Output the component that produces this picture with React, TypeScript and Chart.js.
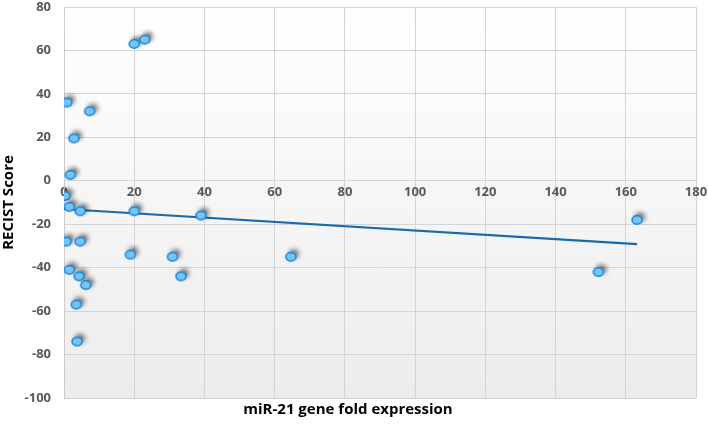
import React, { useEffect, useRef } from "react";
import { Chart, registerables } from "chart.js";

Chart.register(...registerables);

const foldExpression = [
  20.0, 23.0, 0.8, 7.3, 2.8, 1.8, 0.3, 1.5, 4.6, 20.0, 39.0,
  0.6, 4.6, 18.9, 30.9, 1.5, 4.3, 33.3, 6.2, 3.5, 3.7,
  64.6, 163.2, 152.2,
];
const recistScore = [
  63, 65, 36, 32, 19.5, 2.7, -7, -12, -14, -14, -16,
  -28, -28, -34, -35, -41, -44, -44, -48, -57, -74,
  -35, -18, -42,
];
const trendX = [0, 163.2];
const trendY = [-13, -29.2];

const xTitle = "miR-21 gene fold expression";
const yTitle = "RECIST Score";

function makePointImage(): HTMLCanvasElement {
  const c = document.createElement("canvas");
  c.width = 26;
  c.height = 26;
  const ctx = c.getContext("2d")!;
  ctx.save();
  ctx.shadowColor = "rgba(0,0,0,0.6)";
  ctx.shadowBlur = 5;
  ctx.shadowOffsetX = 3;
  ctx.shadowOffsetY = -3;
  ctx.beginPath();
  ctx.ellipse(13, 13, 5, 4.2, 0, 0, Math.PI * 2);
  ctx.fillStyle = "#72c6f7";
  ctx.fill();
  ctx.restore();
  ctx.beginPath();
  ctx.ellipse(13, 13, 5, 4.2, 0, 0, Math.PI * 2);
  ctx.fillStyle = "#72c6f7";
  ctx.fill();
  ctx.lineWidth = 1.5;
  ctx.strokeStyle = "#1f80d8";
  ctx.stroke();
  return c;
}

const bgPlugin = {
  id: "plotBg",
  beforeDraw(chart: any) {
    const { ctx, chartArea } = chart;
    if (!chartArea) return;
    const g = ctx.createLinearGradient(0, chartArea.top, 0, chartArea.bottom);
    g.addColorStop(0, "#ffffff");
    g.addColorStop(1, "#ececec");
    ctx.save();
    ctx.fillStyle = g;
    ctx.fillRect(chartArea.left, chartArea.top, chartArea.right - chartArea.left, chartArea.bottom - chartArea.top);
    ctx.restore();
  },
};

export default function App() {
  const ref = useRef<HTMLCanvasElement | null>(null);
  useEffect(() => {
    if (!ref.current) return;
    const img = makePointImage();
    const tickFont = { family: "'Open Sans', sans-serif", size: 13, weight: "bold" as const };
    const chart = new Chart(ref.current, {
      type: "scatter",
      data: {
        datasets: [
          {
            type: "line",
            label: "trend",
            data: trendX.map((x, i) => ({ x, y: trendY[i] })),
            borderColor: "#176aad",
            borderWidth: 2.2,
            pointRadius: 0,
            fill: false,
            order: 2,
          } as any,
          {
            label: "data",
            data: foldExpression.map((x, i) => ({ x, y: recistScore[i] })),
            pointStyle: img as any,
            pointRadius: 6,
            order: 1,
          },
        ],
      },
      options: {
        responsive: true,
        maintainAspectRatio: false,
        animation: false,
        layout: { padding: { left: 0, right: 12, top: 7, bottom: 0 } },
        plugins: {
          legend: { display: false },
          tooltip: { enabled: false },
          title: {
            display: true,
            position: "bottom",
            text: xTitle,
            color: "#000000",
            font: { family: "'Open Sans', sans-serif", size: 15, weight: "bold" },
            padding: { top: 3, bottom: 6 },
          },
        },
        scales: {
          x: {
            type: "linear",
            position: { y: 0 } as any,
            min: 0,
            max: 180,
            afterFit: (scale: any) => {
              scale.height = 0;
              scale.paddingTop = 0;
              scale.paddingBottom = 0;
              scale.paddingLeft = 0;
              scale.paddingRight = 0;
            },
            ticks: { stepSize: 20, color: "#595959", font: tickFont, padding: 4 },
            grid: { color: "#d4d4d4", lineWidth: 1, drawTicks: false },
            border: { display: true, color: "#d4d4d4" },
          },
          y: {
            type: "linear",
            min: -100,
            max: 80,
            afterFit: (scale: any) => {
              scale.width = 64;
              scale.paddingTop = 0;
              scale.paddingBottom = 0;
            },
            ticks: { stepSize: 20, color: "#595959", font: tickFont, padding: 13 },
            grid: { color: "#d4d4d4", lineWidth: 1, drawTicks: false },
            border: { display: true, color: "#cccccc" },
            title: {
              display: true,
              text: yTitle,
              color: "#000000",
              font: { family: "'Open Sans', sans-serif", size: 15, weight: "bold" },
              padding: { top: 0, bottom: 5 },
            },
          },
        },
      },
      plugins: [bgPlugin],
    });
    return () => chart.destroy();
  }, []);
  return (
    <div style={{ position: "absolute", left: 0, top: 0, width: 708, height: 425 }}>
      <canvas ref={ref} />
    </div>
  );
}
